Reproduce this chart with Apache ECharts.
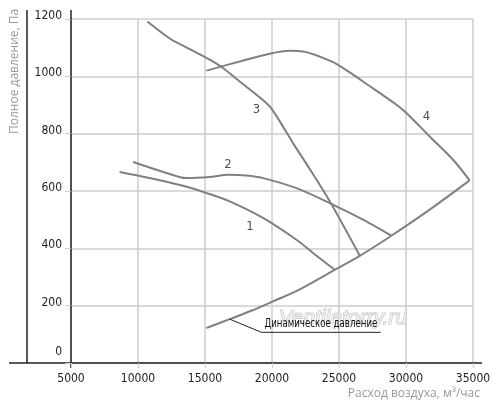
<!DOCTYPE html>
<html>
<head>
<meta charset="utf-8">
<script src="https://cdn.jsdelivr.net/npm/echarts@6/dist/echarts.min.js"></script>
<style>
html,body{margin:0;padding:0;background:#fff;}
#chart{width:500px;height:419px;}
</style>
</head>
<body>
<div id="chart"></div>
<script>
// ---- data ----
var xTicks = [5000, 10000, 15000, 20000, 25000, 30000, 35000];
var yTicks = [0, 200, 400, 600, 800, 1000, 1200];

var curve1X = [8630, 10870, 13360, 14980, 16840, 19330, 21820, 23060, 24680];
var curve1Y = [666, 645, 618, 595, 564, 506, 430, 384, 325];

var curve2X = [9630, 12120, 13610, 15350, 16720, 18090, 19330, 21820, 24310, 26790, 28910];
var curve2Y = [701, 663, 645, 649, 657, 654, 645, 610, 558, 500, 444];

var curve3X = [10700, 12370, 13860, 15350, 16340, 17590, 18840, 19830, 20580, 21570, 22690, 24310, 26550];
var curve3Y = [1191, 1132, 1095, 1058, 1029, 982, 936, 895, 843, 767, 686, 564, 374];

var curve4X = [15110, 17590, 19830, 21320, 22320, 24430, 25800, 26790, 29290, 30030, 31770, 33510, 34750];
var curve4Y = [1020, 1052, 1079, 1089, 1087, 1052, 1014, 982, 901, 872, 790, 709, 637];

var dynX = [15110, 16840, 18500, 20080, 22000, 24680, 26550, 28910, 31770, 34750];
var dynY = [122, 153, 183, 215, 255, 325, 374, 444, 535, 637];

var curveNames = ['1', '2', '3', '4'];
var curveLabelX = [18360, 16720, 18840, 31520];
var curveLabelY = [475, 692, 884, 860];

var dynLabel = 'Динамическое давление';
var leaderX = [16840, 19210, 28110];
var leaderY = [153, 107, 107];

var xName = 'Расход воздуха, м³/час';
var yName = 'Полное давление, Па';
var watermark = 'Ventilatorry.ru';

function zip(xs, ys) { return xs.map(function (x, i) { return [x, ys[i]]; }); }

var FONT = "'Liberation Sans Narrow', 'DejaVu Sans Condensed', Roboto, sans-serif";
var LINE = '#808080';

var chart = echarts.init(document.getElementById('chart'), null, {renderer: 'canvas'});

function lineSeries(name, xs, ys) {
  return {
    name: name, type: 'line', data: zip(xs, ys), smooth: 0.3,
    showSymbol: false, symbol: 'none',
    lineStyle: {color: LINE, width: 2}, z: 3, silent: true
  };
}

var option = {
  animation: false,
  backgroundColor: '#fff',
  grid: {left: 71, right: 27, top: 19, bottom: 56},
  xAxis: {
    type: 'value', min: xTicks[0], max: xTicks[xTicks.length - 1], interval: 5000,
    axisLine: {lineStyle: {color: '#222', width: 1.5}},
    axisTick: {show: true, length: 5, lineStyle: {color: '#ccc'}},
    splitLine: {lineStyle: {color: '#ccc', width: 1.5}},
    axisLabel: {color: '#222', fontSize: 12, fontFamily: FONT, margin: 10,
      formatter: function (v) { return String(v); }}
  },
  yAxis: {
    type: 'value', min: yTicks[0], max: yTicks[yTicks.length - 1], interval: 200,
    axisLine: {show: true, lineStyle: {color: '#222', width: 1.5}},
    axisTick: {show: true, length: 6, lineStyle: {color: '#ccc'}},
    splitLine: {lineStyle: {color: '#ccc', width: 1.5}},
    axisLabel: {
      color: '#222', fontSize: 12, fontFamily: FONT, margin: 9,
      formatter: function (v) { return v === 0 ? '{z|0}' : '{n|' + v + '}'; },
      rich: {
        z: {fontSize: 12, fontFamily: FONT, color: '#222', padding: [0, 0, 22, 0]},
        n: {fontSize: 12, fontFamily: FONT, color: '#222', padding: [0, 0, 6, 0]}
      }
    }
  },
  series: [
    lineSeries('1', curve1X, curve1Y),
    lineSeries('2', curve2X, curve2Y),
    lineSeries('3', curve3X, curve3Y),
    lineSeries('4', curve4X, curve4Y),
    lineSeries('Динамическое давление', dynX, dynY),
    {
      type: 'scatter', symbolSize: 0, silent: true, z: 4,
      data: curveNames.map(function (n, i) { return {name: n, value: [curveLabelX[i], curveLabelY[i]]}; }),
      label: {show: true, position: 'inside', formatter: '{b}', color: '#222', fontSize: 13, fontFamily: FONT}
    },
    {
      type: 'line', data: zip(leaderX, leaderY), showSymbol: false, symbol: 'none',
      lineStyle: {color: '#222', width: 1}, silent: true, z: 4
    }
  ]
};
chart.setOption(option);

// decorative extensions and texts (positions derived from the axes)
var p0 = chart.convertToPixel({gridIndex: 0}, [xTicks[0], yTicks[0]]);
var pTop = chart.convertToPixel({gridIndex: 0}, [xTicks[xTicks.length - 1], yTicks[yTicks.length - 1]]);
var labPos = chart.convertToPixel({gridIndex: 0}, [leaderX[1], leaderY[1]]);
var wm = chart.convertToPixel({gridIndex: 0}, [20500, 155]);

chart.setOption({
  graphic: [
    {type: 'line', shape: {x1: 9, y1: p0[1], x2: p0[0], y2: p0[1]}, style: {stroke: '#222', lineWidth: 1.5}, silent: true},
    {type: 'line', shape: {x1: pTop[0], y1: p0[1], x2: 482, y2: p0[1]}, style: {stroke: '#222', lineWidth: 1.5}, silent: true},
    {type: 'line', shape: {x1: p0[0], y1: 10, x2: p0[0], y2: pTop[1]}, style: {stroke: '#222', lineWidth: 1.5}, silent: true},
    {type: 'line', shape: {x1: p0[0], y1: p0[1], x2: p0[0], y2: p0[1] + 5}, style: {stroke: '#222', lineWidth: 1.5}, silent: true},
    {type: 'line', shape: {x1: 27, y1: 10, x2: 27, y2: p0[1]}, style: {stroke: '#222', lineWidth: 1.5}, silent: true},
    {
      type: 'text', x: 15, y: 134, rotation: Math.PI / 2, silent: true,
      style: {text: yName, fill: '#999', font: "12px 'Open Sans', 'Noto Sans', sans-serif", align: 'left', verticalAlign: 'middle'}
    },
    {
      type: 'text', x: 480, y: 394, silent: true,
      style: {text: xName, fill: '#999', font: "12px 'Open Sans', 'Noto Sans', sans-serif", align: 'right', verticalAlign: 'middle'}
    },
    {
      type: 'text', x: labPos[0] + 3, y: labPos[1] - 2, scaleX: 0.8, silent: true, z: 5,
      style: {text: dynLabel, fill: '#111', font: "12px " + FONT, align: 'left', verticalAlign: 'bottom'}
    },
    {
      type: 'text', x: wm[0], y: wm[1], silent: true, z: 2,
      style: {text: watermark, fill: 'rgba(255,255,255,0.6)', stroke: '#c4c4c4', lineWidth: 1.2,
              font: "italic 21px 'Liberation Sans', Arial, sans-serif", align: 'left', verticalAlign: 'middle'}
    }
  ]
});
</script>
</body>
</html>
